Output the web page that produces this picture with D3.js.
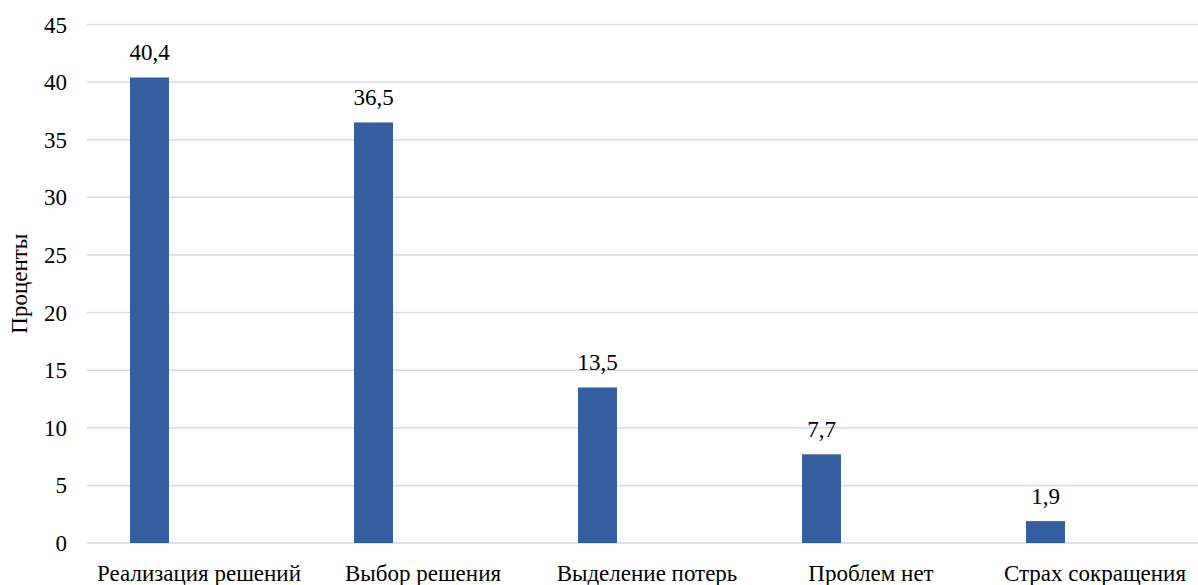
<!DOCTYPE html>
<html>
<head>
<meta charset="utf-8">
<script src="https://cdn.jsdelivr.net/npm/d3@7"></script>
<style>
  body { margin: 0; background: #fff; }
</style>
</head>
<body>
<div id="chart"></div>
<script>
// chart data
var categories = ["Реализация решений", "Выбор решения", "Выделение потерь", "Проблем нет", "Страх сокращения"];
var values = [40.4, 36.5, 13.5, 7.7, 1.9];
var valueLabels = ["40,4", "36,5", "13,5", "7,7", "1,9"];
var yTicks = [0, 5, 10, 15, 20, 25, 30, 35, 40, 45];
var yTitle = "Проценты";

var width = 1198, height = 585;
var plotLeft = 87, plotRight = 1207, plotTop = 24.5, plotBottom = 543;

// pick the first installed serif font (Times-like look)
function pickFont(list) {
    var ctx = document.createElement("canvas").getContext("2d");
    var probe = "Реализация решений 0123456789 mmwwiill";
    ctx.font = "40px monospace";
    var base = ctx.measureText(probe).width;
    for (var i = 0; i < list.length; i++) {
        ctx.font = "40px '" + list[i] + "', monospace";
        if (ctx.measureText(probe).width !== base) return "'" + list[i] + "'";
    }
    return "serif";
}
var fontFamily = pickFont(["Liberation Serif", "Times New Roman", "Tinos", "DejaVu Serif", "Noto Serif"]) + ", serif";

var svg = d3.select("#chart").append("svg")
    .attr("width", width)
    .attr("height", height)
    .style("font-family", fontFamily);

var x = d3.scaleBand().domain(categories).range([plotLeft, plotRight]);
var y = d3.scaleLinear().domain([0, 45]).range([plotBottom, plotTop]);

var barW = 39;
var barOffset = -49.5; // bars sit left of the category centre (empty 2nd series)

// gridlines
svg.append("g").selectAll("line")
    .data(yTicks)
    .enter().append("line")
    .attr("x1", plotLeft).attr("x2", width)
    .attr("y1", function(d) { return y(d); })
    .attr("y2", function(d) { return y(d); })
    .attr("stroke", "#d9d9d9")
    .attr("stroke-width", 1.5);

// y tick labels
svg.append("g").selectAll("text")
    .data(yTicks)
    .enter().append("text")
    .attr("x", 67)
    .attr("y", function(d) { return y(d); })
    .attr("dy", "0.35em")
    .attr("text-anchor", "end")
    .style("font-size", "23px")
    .text(function(d) { return d; });

// bars
svg.append("g").selectAll("rect")
    .data(values)
    .enter().append("rect")
    .attr("x", function(d, i) { return x(categories[i]) + x.bandwidth() / 2 + barOffset - barW / 2; })
    .attr("y", function(d) { return y(d); })
    .attr("width", barW)
    .attr("height", function(d) { return y(0) - y(d); })
    .attr("fill", "#355E9F");

// value labels
svg.append("g").selectAll("text")
    .data(values)
    .enter().append("text")
    .attr("x", function(d, i) { return x(categories[i]) + x.bandwidth() / 2 + barOffset; })
    .attr("y", function(d) { return y(d) - 17.5; })
    .attr("text-anchor", "middle")
    .style("font-size", "23px")
    .text(function(d, i) { return valueLabels[i]; });

// category labels
svg.append("g").selectAll("text")
    .data(categories)
    .enter().append("text")
    .attr("x", function(d) { return x(d) + x.bandwidth() / 2; })
    .attr("y", 581)
    .attr("text-anchor", "middle")
    .style("font-size", "23px")
    .text(function(d) { return d; });

// y title
svg.append("text")
    .attr("transform", "translate(27," + ((plotTop + plotBottom) / 2) + ") rotate(-90)")
    .attr("text-anchor", "middle")
    .style("font-size", "23px")
    .text(yTitle);
</script>
</body>
</html>
